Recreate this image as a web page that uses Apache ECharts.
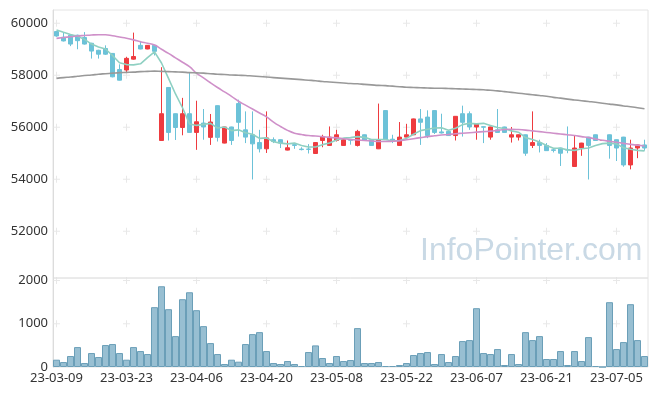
<!DOCTYPE html>
<html>
<head>
<meta charset="utf-8">
<script src="https://cdn.jsdelivr.net/npm/echarts@6/dist/echarts.min.js"></script>
<style>
html,body{margin:0;padding:0;background:#fff;}
#chart{width:657px;height:396px;}
</style>
</head>
<body>
<div id="chart"></div>
<script>
const dates = ['23-03-09','23-03-10','23-03-13','23-03-14','23-03-15','23-03-16','23-03-17','23-03-20','23-03-21','23-03-22',
'23-03-23','23-03-24','23-03-27','23-03-28','23-03-29','23-03-30','23-03-31','23-04-03','23-04-04','23-04-05',
'23-04-06','23-04-07','23-04-10','23-04-11','23-04-12','23-04-13','23-04-14','23-04-17','23-04-18','23-04-19',
'23-04-20','23-04-21','23-04-24','23-04-25','23-04-26','23-04-27','23-04-28','23-05-02','23-05-03','23-05-04',
'23-05-08','23-05-09','23-05-10','23-05-11','23-05-12','23-05-15','23-05-16','23-05-17','23-05-18','23-05-19',
'23-05-22','23-05-23','23-05-24','23-05-25','23-05-26','23-05-30','23-05-31','23-06-01','23-06-02','23-06-05',
'23-06-07','23-06-08','23-06-09','23-06-12','23-06-13','23-06-14','23-06-15','23-06-16','23-06-19','23-06-20',
'23-06-21','23-06-22','23-06-23','23-06-26','23-06-27','23-06-28','23-06-29','23-06-30','23-07-03','23-07-04',
'23-07-05','23-07-06','23-07-07','23-07-10','23-07-11'];

const opens = [59680,59460,59540,59540,59450,59230,58960,59030,58840,58220,
58200,58620,59150,59010,59150,55490,57530,56520,55990,56520,
55800,56160,55610,56830,55390,56010,56910,55900,55710,55410,
55170,55520,55520,55120,55330,55160,55160,54990,55490,55300,
55490,55300,55520,55300,55710,55520,55170,56640,55540,55300,
55620,55710,56320,56390,56640,55820,55840,55680,56520,56520,
56010,56020,55620,55900,56010,55620,55620,55710,55300,55410,
55300,55130,55200,55140,54490,55200,55620,55710,55490,55710,
55520,55620,54550,55200,55320];
const closes = [59510,59320,59200,59330,59200,58930,58810,58810,57940,57810,
58650,58720,59010,59150,58920,56520,55800,55990,56520,55800,
56210,56010,56200,55610,56010,55490,56190,55620,55360,55170,
55590,55450,55390,55210,55300,55140,55150,55410,55640,55620,
55710,55520,55500,55840,55490,55300,55520,55520,55500,55620,
55710,56320,56190,55680,55800,55780,55680,56420,56190,56010,
56120,56000,56010,55800,55800,55710,55710,55000,55410,55300,
55100,55110,55000,55120,55200,55390,55300,55490,55490,55300,
55200,54550,55200,55320,55200];
const lows = [59480,59300,59120,59000,59180,58640,58640,58780,57920,57800,
58120,58600,59000,59000,58760,55480,55490,55510,55690,55790,
55130,55520,55320,55450,55380,55320,55640,55390,53990,55030,
55010,55390,55200,55110,55170,55110,54990,54980,55230,55290,
55450,55290,55330,55260,55480,55290,55160,55510,55390,55290,
55610,55700,55320,55580,55740,55760,55670,55490,55640,55900,
55520,55390,55520,55790,55790,55410,55490,54900,55200,55030,
55090,55030,54510,55000,54480,54900,53990,55480,55490,54790,
54700,54480,54380,54810,55100];
const highs = [59700,59640,59560,59560,59660,59250,58980,59150,58850,58420,
58710,59640,59320,59160,59160,58310,57540,56530,57130,58090,
57020,56700,56510,56840,56020,56020,57060,56610,56610,55900,
56610,55610,55530,55490,55340,55230,55350,55420,55710,56030,
55900,55530,55530,55900,55720,55530,56910,56650,55710,56200,
56130,56330,56700,56650,56650,56520,55850,56430,56830,56610,
56160,56030,56020,56700,56020,56010,55720,55720,56610,55520,
55390,55200,55210,56030,55670,55400,55630,55720,55490,55720,
55530,55630,55520,55330,55520];

const volumes = [169,115,254,461,92,323,231,508,531,323,
169,461,369,300,1385,1869,1338,715,1569,1730,
1315,946,554,300,69,169,123,531,761,807,
369,92,69,138,69,23,346,500,208,92,
254,138,161,900,92,92,115,23,23,46,
92,277,323,346,69,300,115,254,600,623,
1361,323,300,415,46,300,69,807,623,715,
185,185,369,46,369,138,692,23,0,1500,
415,577,1454,623,254];

const ma5 = [59740,59650,59570,59500,59380,59200,59090,59010,58760,58480,
58410,58400,58440,58680,58900,58470,57880,57280,56750,56130,
56070,56110,56150,55970,56010,55870,55900,55790,55730,55570,
55590,55440,55390,55360,55390,55300,55240,55240,55330,55390,
55510,55580,55600,55640,55610,55530,55530,55530,55470,55490,
55570,55730,55870,55920,55970,55980,55880,55960,56100,56150,
56130,56150,56070,55990,55950,55860,55810,55600,55530,55430,
55300,55190,55190,55130,55110,55170,55200,55300,55370,55390,
55360,55210,55150,55110,55090];
const ma20 = [59420,59450,59480,59510,59530,59550,59560,59560,59520,59470,
59420,59360,59290,59230,59160,59000,58840,58670,58500,58330,
58080,57900,57710,57530,57360,57190,57000,56850,56700,56550,
56400,56200,56030,55880,55770,55720,55680,55660,55640,55610,
55590,55560,55530,55510,55490,55470,55450,55450,55460,55480,
55520,55560,55600,55640,55670,55700,55720,55750,55770,55790,
55810,55830,55850,55880,55910,55920,55910,55890,55860,55830,
55800,55770,55740,55710,55680,55640,55600,55550,55500,55460,
55420,55380,55340,55310,55280];
const ma120 = [57880,57910,57930,57960,57990,58010,58040,58060,58080,58100,
58110,58120,58140,58150,58160,58150,58140,58130,58120,58100,
58090,58080,58060,58040,58030,58010,58000,57990,57970,57950,
57930,57910,57890,57870,57850,57830,57810,57790,57760,57740,
57720,57700,57680,57670,57650,57630,57610,57600,57580,57560,
57540,57530,57520,57510,57500,57500,57490,57480,57470,57460,
57450,57440,57420,57400,57370,57340,57310,57280,57250,57220,
57190,57150,57120,57080,57050,57020,56990,56960,56920,56890,
56860,56820,56790,56750,56710];

const priceTicks = [52000,54000,56000,58000,60000];
const volumeTicks = [1000,2000];
const labelStep = 10;

const candleData = dates.map((d,i)=>[opens[i],closes[i],lows[i],highs[i]]);
const tickCats = dates.filter((d,i)=>i%labelStep===0);
const priceCross = [];
tickCats.forEach(c=>priceTicks.forEach(v=>priceCross.push([c,v])));
const volCross = [];
tickCats.forEach(c=>volumeTicks.forEach(v=>volCross.push([c,v])));

const plusPath = 'path://M3,0H4V3H7V4H4V7H3V4H0V3H3Z';
const font = '"Noto Sans", sans-serif';
const plain = v => String(v);

const chart = echarts.init(document.getElementById('chart'), null, {renderer:'canvas'});
chart.setOption({
  animation:false,
  backgroundColor:'#fff',
  grid:[
    {left:53,right:9,top:10,height:268,show:true,borderColor:'#e4e4e4',borderWidth:1},
    {left:53,right:9,top:278,height:89,show:true,borderColor:'#e4e4e4',borderWidth:1}
  ],
  xAxis:[
    {type:'category',gridIndex:0,data:dates,boundaryGap:true,
     axisLine:{show:false},axisTick:{show:false},axisLabel:{show:false},splitLine:{show:false}},
    {type:'category',gridIndex:1,data:dates,boundaryGap:true,
     axisLine:{show:false},axisTick:{show:false},splitLine:{show:false},
     axisLabel:{interval:labelStep-1,color:'#333',fontSize:13,fontFamily:font,margin:5}}
  ],
  yAxis:[
    {type:'value',gridIndex:0,scale:true,min:50200,max:60510,splitNumber:5,
     axisLine:{show:true,lineStyle:{color:'#dcdcdc'}},axisTick:{show:false},splitLine:{show:false},
     axisLabel:{showMinLabel:false,showMaxLabel:false,color:'#333',fontSize:13,fontFamily:font,margin:5,formatter:plain}},
    {type:'value',gridIndex:1,min:0,max:2060,interval:1000,
     axisLine:{show:true,lineStyle:{color:'#dcdcdc'}},axisTick:{show:false},splitLine:{show:false},
     axisLabel:{showMaxLabel:false,color:'#333',fontSize:13,fontFamily:font,margin:5,formatter:plain}}
  ],
  graphic:[
    {type:'text',left:420,top:235,z:0,silent:true,
     style:{text:'InfoPointer.com',font:'32px "Liberation Sans", sans-serif',fill:'#c9d9e5'}}
  ],
  series:[
    {type:'scatter',xAxisIndex:0,yAxisIndex:0,data:priceCross,symbol:plusPath,symbolSize:7,
     itemStyle:{color:'#e2e2e2'},silent:true,z:1},
    {type:'scatter',xAxisIndex:1,yAxisIndex:1,data:volCross,symbol:plusPath,symbolSize:7,
     itemStyle:{color:'#e2e2e2'},silent:true,z:1},
    {type:'candlestick',xAxisIndex:0,yAxisIndex:0,data:candleData,barWidth:5,z:3,
     itemStyle:{color:'#ee3b3f',color0:'#6cc2d8',borderColor:'#ee3b3f',borderColor0:'#6cc2d8',borderWidth:1}},
    {type:'line',xAxisIndex:0,yAxisIndex:0,data:ma5,showSymbol:false,smooth:false,z:4,
     lineStyle:{color:'#8fd0c2',width:1.6}},
    {type:'line',xAxisIndex:0,yAxisIndex:0,data:ma20,showSymbol:false,smooth:true,z:4,
     lineStyle:{color:'#cf90c9',width:1.6}},
    {type:'line',xAxisIndex:0,yAxisIndex:0,data:ma120,showSymbol:false,smooth:true,z:4,
     lineStyle:{color:'#999999',width:1.6}},
    {type:'bar',xAxisIndex:1,yAxisIndex:1,data:volumes,barCategoryGap:'0%',z:3,
     itemStyle:{color:'#98bfd2',borderColor:'#6b9fb8',borderWidth:1}}
  ]
});
</script>
</body>
</html>
